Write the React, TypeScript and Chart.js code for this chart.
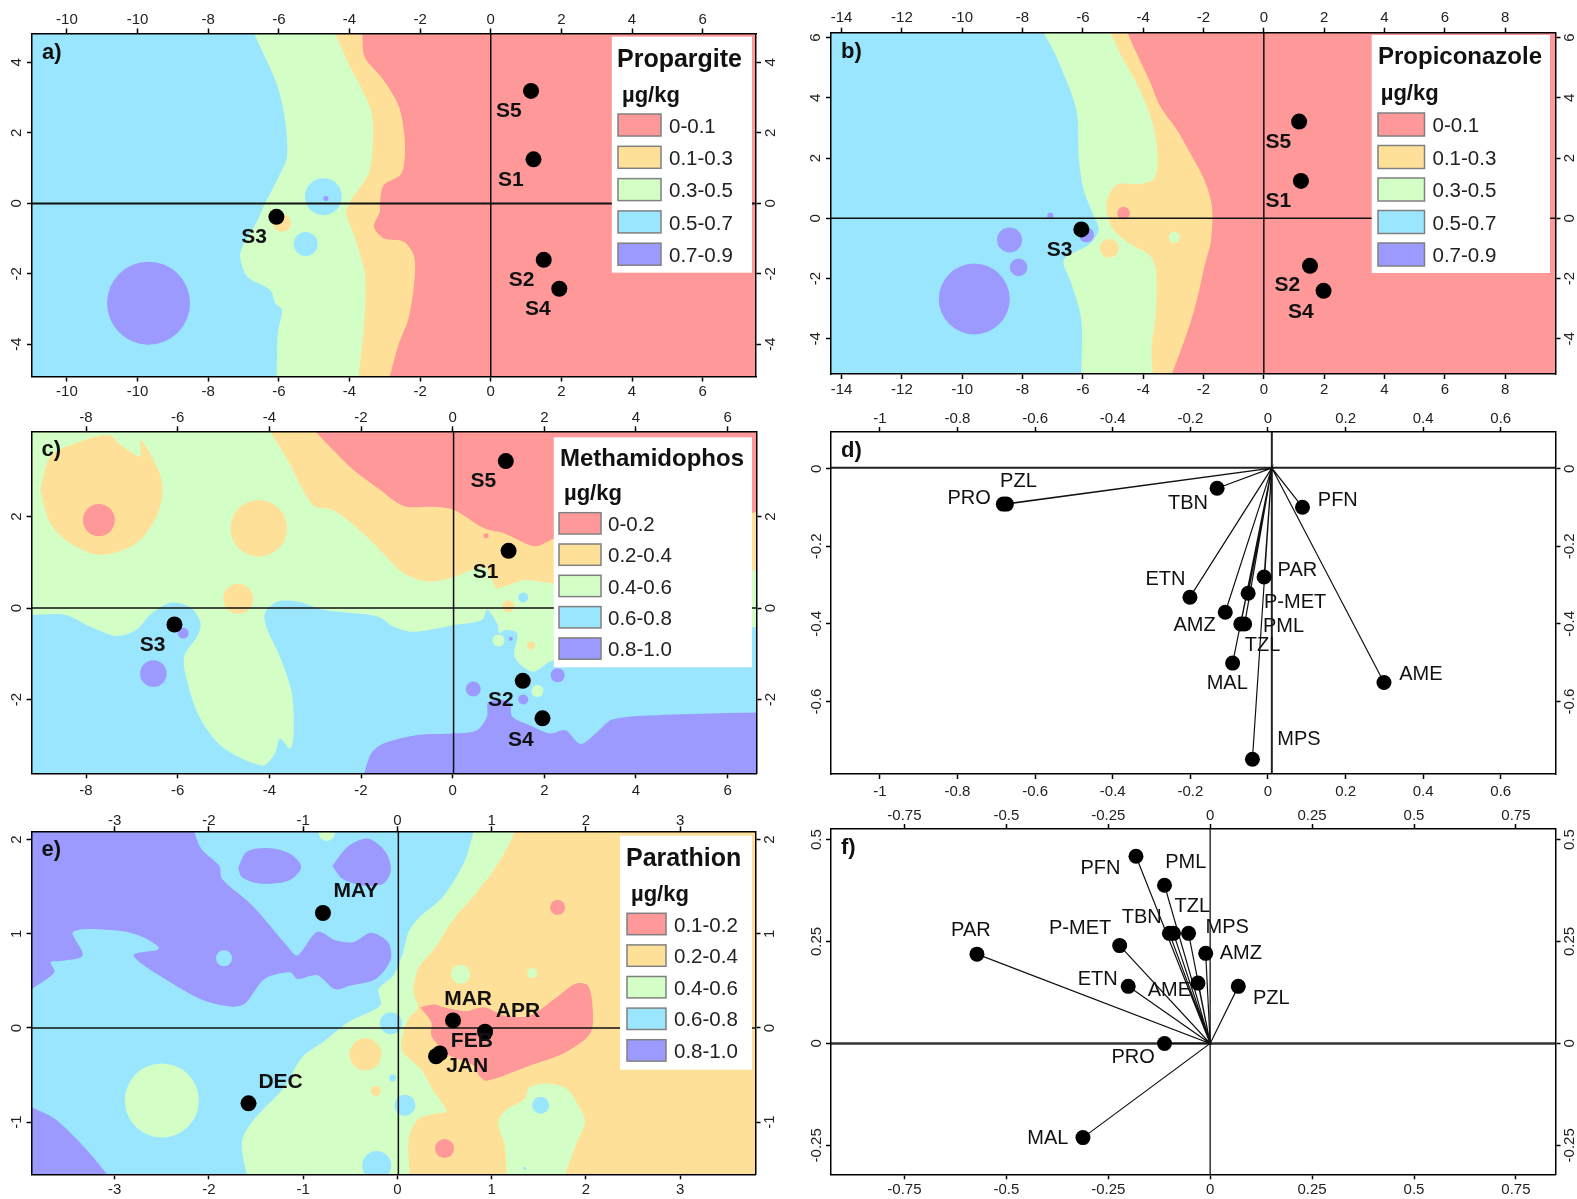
import React, { useEffect, useRef } from "react";
import { Chart, registerables } from "chart.js";

Chart.register(...registerables);

type P = [number, number];
const FONT = "'Liberation Sans', Arial, sans-serif";
const COLORS = ["#FF9898", "#FFE098", "#D3FFC6", "#9BE6FF", "#9C9AFF"];

// ---------- shared tick values and labels ----------
const xTicksA = [-12, -10, -8, -6, -4, -2, 0, 2, 4, 6];
const xLabelsA = ["-10", "-10", "-8", "-6", "-4", "-2", "0", "2", "4", "6"];
const yTicksA = [4, 2, 0, -2, -4];
const xTicksB = [-14, -12, -10, -8, -6, -4, -2, 0, 2, 4, 6, 8];
const yTicksB = [6, 4, 2, 0, -2, -4];
const xTicksC = [-8, -6, -4, -2, 0, 2, 4, 6];
const yTicksC = [2, 0, -2];
const xTicksD = [-1, -0.8, -0.6, -0.4, -0.2, 0, 0.2, 0.4, 0.6];
const yTicksD = [0, -0.2, -0.4, -0.6];
const xTicksE = [-3, -2, -1, 0, 1, 2, 3];
const yTicksE = [2, 1, 0, -1];
const xTicksF = [-0.75, -0.5, -0.25, 0, 0.25, 0.5, 0.75];
const yTicksF = [0.5, 0.25, 0, -0.25];

// ---------- panel a ----------
const siteNames = ["S1", "S2", "S3", "S4", "S5"];
const sitesA: P[] = [[1.21, 1.25], [1.5, -1.6], [-6.07, -0.38], [1.94, -2.42], [1.14, 3.19]];
const siteLabelsA: P[] = [[0.57, 0.66], [0.87, -2.19], [-6.7, -0.96], [1.33, -3.01], [0.51, 2.62]];
const baseA: P[] = [[-12.99, 4.82], [7.51, 4.82], [7.51, -4.91], [-12.99, -4.91]];
const yellowA: P[] = [[-3.64, 4.82], [-3.57, 4.15], [-3.03, 3.49], [-2.6, 2.74], [-2.43, 1.7], [-2.53, 0.85], [-3.03, 0.52], [-3.14, 0], [-3.14, -0.24], [-3.31, -0.66], [-3.03, -0.99], [-2.46, -1.09], [-2.17, -1.51], [-2.17, -2.27], [-2.34, -3.3], [-2.6, -3.97], [-2.86, -4.91], [-12.99, -4.91], [-12.99, 4.82]];
const greenA: P[] = [[-4.41, 4.82], [-4.03, 3.97], [-3.39, 2.64], [-3.34, 1.61], [-3.46, 0.85], [-3.96, 0.09], [-4.1, -0.28], [-3.89, -0.85], [-3.57, -1.98], [-3.57, -3.21], [-3.67, -4.25], [-3.74, -4.91], [-12.99, -4.91], [-12.99, 4.82]];
const blueA: P[] = [[-6.7, 4.82], [-6.31, 3.97], [-6.03, 3.3], [-5.81, 2.27], [-5.77, 1.32], [-5.96, 0.85], [-6.39, 0], [-6.6, -0.47], [-7.03, -1.23], [-7.1, -1.51], [-6.89, -2.08], [-6.24, -2.46], [-6.1, -2.83], [-5.91, -3.02], [-6.03, -3.68], [-6.06, -4.91], [-12.99, -4.91], [-12.99, 4.82]];
const blobsYellowA = [{ x: -5.91, y: -0.55, r: 9 }];
const blobsBlueA = [{ x: -4.74, y: 0.19, r: 18.5 }, { x: -5.24, y: -1.15, r: 12 }];
const blobsPurpleA = [{ x: -9.69, y: -2.83, r: 41.5 }, { x: -4.67, y: 0.14, r: 2.5 }];

// ---------- panel b ----------
const sitesB: P[] = [[1.23, 1.24], [1.53, -1.58], [-6.05, -0.37], [1.98, -2.41], [1.17, 3.21]];
const siteLabelsB: P[] = [[0.48, 0.55], [0.78, -2.23], [-6.77, -1.07], [1.23, -3.12], [0.48, 2.51]];
const baseB: P[] = [[-14.35, 6.16], [9.67, 6.16], [9.67, -5.17], [-14.35, -5.17]];
const yellowB: P[] = [[-4.52, 6.16], [-4.22, 5.48], [-3.8, 4.59], [-3.43, 3.71], [-2.88, 2.93], [-2.38, 2.05], [-1.97, 1.27], [-1.72, 0.39], [-1.75, -0.72], [-1.97, -1.6], [-2.22, -2.71], [-2.55, -3.82], [-3.05, -5.17], [-14.35, -5.17], [-14.35, 6.16]];
const greenB: P[] = [[-5.08, 6.16], [-4.72, 5.37], [-4.22, 4.48], [-3.72, 3.26], [-3.52, 2.05], [-3.63, 1.33], [-4.13, 1.13], [-4.88, 1.11], [-5.22, 0.5], [-5.05, -0.28], [-4.47, -0.83], [-3.8, -1.22], [-3.58, -1.71], [-3.58, -3.15], [-3.72, -4.26], [-3.68, -5.17], [-14.35, -5.17], [-14.35, 6.16]];
const blueB: P[] = [[-7.3, 6.16], [-6.88, 5.37], [-6.22, 3.6], [-6.13, 1.94], [-5.97, 0.94], [-5.63, 0.06], [-5.47, -0.39], [-5.8, -0.88], [-6.63, -1.38], [-6.38, -2.16], [-6.05, -3.37], [-6.05, -5.17], [-14.35, -5.17], [-14.35, 6.16]];
const blobsRedB = [{ x: -4.65, y: 0.17, r: 6.3 }];
const blobsYellowB = [{ x: -5.13, y: -1.0, r: 9.5 }];
const blobsGreenB = [{ x: -2.97, y: -0.63, r: 5.5 }];
const blobsPurpleB = [{ x: -9.6, y: -2.68, r: 35.5 }, { x: -8.43, y: -0.72, r: 12.5 }, { x: -8.13, y: -1.63, r: 8.8 }, { x: -7.08, y: 0.08, r: 3 }, { x: -5.88, y: -0.55, r: 7.5 }];

// ---------- panel c ----------
const sitesC: P[] = [[1.22, 1.25], [1.53, -1.59], [-6.07, -0.36], [1.96, -2.41], [1.16, 3.21]];
const siteLabelsC: P[] = [[0.72, 0.79], [1.05, -2.02], [-6.55, -0.82], [1.49, -2.88], [0.67, 2.76]];
const baseC: P[] = [[-9.19, 3.86], [6.63, 3.86], [6.63, -3.61], [-9.19, -3.61]];
const yellowC: P[] = [[-3.99, 3.86], [-3.6, 3.23], [-3.27, 2.58], [-3.0, 2.21], [-2.61, 2.14], [-1.95, 1.63], [-1.51, 1.19], [-1.07, 0.76], [-0.52, 0.58], [0.03, 0.68], [0.69, 0.9], [0.86, 0.61], [0.97, 0.43], [1.57, 0.61], [2.24, 0.54], [6.63, 0.83], [6.63, 3.86]];
const redC: P[] = [[-3, 3.86], [-2.61, 3.45], [-2.17, 3.02], [-1.62, 2.61], [-1.07, 2.23], [-0.41, 2.21], [0.03, 2.14], [0.69, 1.74], [1.13, 1.63], [1.8, 1.35], [2.24, 1.52], [3.34, 1.49], [6.63, 2.1], [6.63, 3.86]];
const blueC: P[] = [[-9.19, -0.15], [-8.45, -0.15], [-7.9, -0.41], [-7.35, -0.61], [-6.91, -0.48], [-6.57, -0.12], [-6.13, 0.12], [-5.69, -0.01], [-5.5, -0.34], [-5.58, -0.63], [-5.86, -1.06], [-5.8, -1.57], [-5.53, -2.37], [-5.03, -3.03], [-4.15, -3.44], [-3.88, -3.18], [-3.77, -2.85], [-3.55, -3.07], [-3.47, -2.74], [-3.51, -1.86], [-3.77, -1.06], [-4.04, -0.48], [-4.1, -0.12], [-3.82, 0.14], [-3.38, 0.14], [-2.83, -0.04], [-1.62, -0.19], [-1.29, -0.41], [-0.85, -0.52], [0.03, -0.37], [0.64, -0.26], [0.75, -0.04], [0.97, -0.34], [1.02, -0.55], [1.13, -0.48], [1.41, -0.55], [1.35, -1.06], [1.74, -1.39], [2.2, -1.14], [6.63, -0.41], [6.63, -3.61], [-9.19, -3.61]];
const purpleC: P[] = [[-1.93, -3.61], [-1.78, -3.18], [-1.51, -2.96], [-0.74, -2.77], [0.03, -2.74], [0.53, -2.67], [0.75, -2.37], [0.78, -2.05], [1.24, -2.05], [1.3, -2.37], [1.68, -2.56], [2.13, -2.74], [2.46, -2.67], [2.79, -2.97], [3.12, -2.74], [3.5, -2.43], [4.99, -2.32], [6.63, -2.28], [6.63, -3.61]];
const yellowBlotchC: P[] = [[-9.0, 2.58], [-8.78, 3.31], [-8.23, 3.6], [-7.51, 3.78], [-7.24, 3.56], [-6.82, 3.31], [-6.82, 3.67], [-6.52, 3.23], [-6.33, 2.65], [-6.46, 2.0], [-6.91, 1.41], [-7.68, 1.16], [-8.34, 1.41], [-8.78, 1.85]];
const blobsYellowC = [{ x: -4.23, y: 1.74, r: 28.3 }, { x: -4.68, y: 0.2, r: 15 }, { x: 1.21, y: 0.04, r: 6 }, { x: 1.71, y: -0.82, r: 4 }];
const blobsRedC = [{ x: -7.72, y: 1.92, r: 16 }, { x: 0.73, y: 1.58, r: 2.5 }];
const blobsGreenC = [{ x: 1.85, y: -1.81, r: 6 }, { x: 1.0, y: -0.71, r: 6 }];
const blobsBlueC = [{ x: 1.54, y: 0.23, r: 5 }];
const blobsPurpleC = [{ x: -5.88, y: -0.55, r: 5.5 }, { x: -6.53, y: -1.43, r: 13.3 }, { x: 0.45, y: -1.77, r: 7.5 }, { x: 1.54, y: -2.0, r: 5 }, { x: 2.29, y: -1.47, r: 7 }, { x: 1.27, y: -0.67, r: 2 }];

// ---------- panel d ----------
const speciesD = ["PRO", "PZL", "TBN", "PFN", "PAR", "P-MET", "ETN", "AMZ", "PML", "TZL", "MAL", "AME", "MPS"];
const vectorsD: P[] = [[-0.682, -0.091], [-0.674, -0.091], [-0.131, -0.05], [0.089, -0.099], [-0.01, -0.279], [-0.051, -0.321], [-0.201, -0.331], [-0.11, -0.37], [-0.06, -0.4], [-0.07, -0.4], [-0.091, -0.501], [0.299, -0.551], [-0.04, -0.749]];
const vectorLabelsD: P[] = [[-0.77, -0.076], [-0.643, -0.033], [-0.206, -0.09], [0.18, -0.082], [0.076, -0.261], [0.07, -0.345], [-0.264, -0.286], [-0.189, -0.405], [0.04, -0.407], [-0.014, -0.456], [-0.105, -0.553], [0.394, -0.531], [0.08, -0.699]];

// ---------- panel e ----------
const monthNames = ["MAY", "MAR", "APR", "FEB", "JAN", "DEC"];
const monthsE: P[] = [[-0.79, 1.22], [0.59, 0.08], [0.93, -0.04], [0.45, -0.27], [0.41, -0.3], [-1.58, -0.8]];
const monthLabelsE: P[] = [[-0.44, 1.45], [0.75, 0.3], [1.28, 0.18], [0.79, -0.14], [0.74, -0.41], [-1.24, -0.58]];
const baseE: P[] = [[-3.883, 2.087], [3.8, 2.087], [3.8, -1.553], [-3.883, -1.553]];
const greenE: P[] = [[1.25, 2.087], [1.08, 1.76], [0.81, 1.4], [0.6, 1.16], [0.39, 0.84], [0.22, 0.63], [0.17, 0.38], [0.22, 0.22], [0.12, 0.1], [0.04, -0.15], [0.06, -0.26], [0.25, -0.44], [0.39, -0.68], [0.52, -0.88], [0.39, -0.91], [0.22, -0.97], [0.12, -1.18], [0.13, -1.553], [-3.883, -1.553], [-3.883, 2.087]];
const blueE: P[] = [[0.81, 2.087], [0.71, 1.76], [0.49, 1.4], [0.22, 1.16], [0.12, 1.02], [0.06, 0.8], [-0.04, 0.56], [-0.2, 0.41], [-0.18, 0.24], [-0.52, 0.06], [-0.79, -0.15], [-1.01, -0.31], [-1.22, -0.65], [-1.52, -0.97], [-1.65, -1.21], [-1.6, -1.553], [-3.883, -1.553], [-3.883, 2.087]];
const purpleE: P[] = [[-2.16, 2.087], [-2.08, 1.9], [-1.89, 1.72], [-1.86, 1.58], [-1.54, 1.3], [-1.17, 0.87], [-1.06, 0.77], [-0.85, 1.02], [-0.66, 0.93], [-0.47, 0.91], [-0.28, 1.01], [-0.1, 0.91], [-0.07, 0.73], [-0.23, 0.52], [-0.5, 0.45], [-0.66, 0.41], [-0.85, 0.56], [-1.06, 0.52], [-1.14, 0.59], [-1.41, 0.52], [-1.65, 0.24], [-2.02, 0.28], [-2.4, 0.48], [-2.8, 0.77], [-2.53, 0.84], [-2.69, 0.96], [-2.94, 1.03], [-3.44, 1.02], [-3.34, 0.77], [-3.58, 0.71], [-3.68, 0.7], [-3.64, 0.59], [-3.883, 0.41], [-3.883, 2.087]];
const purpleCornerE: P[] = [[-3.883, -0.84], [-3.63, -0.97], [-3.31, -1.28], [-3.08, -1.553], [-3.883, -1.553]];
const purpleDomeLeftE: P[] = [[-1.69, 1.7], [-1.6, 1.87], [-1.38, 1.91], [-1.14, 1.85], [-1.02, 1.71], [-1.14, 1.57], [-1.44, 1.53], [-1.65, 1.6]];
const purpleDomeRightE: P[] = [[-0.69, 1.72], [-0.52, 1.93], [-0.31, 2.01], [-0.12, 1.86], [-0.07, 1.67], [-0.15, 1.53], [-0.36, 1.51], [-0.58, 1.58]];
const redE: P[] = [[0.24, 0.22], [0.39, 0.25], [0.49, 0.22], [0.73, 0.18], [0.92, 0.22], [1.14, 0.13], [1.4, 0.13], [1.67, 0.31], [1.89, 0.47], [2.02, 0.45], [2.07, 0.24], [2.05, -0.05], [1.78, -0.26], [1.4, -0.4], [0.95, -0.56], [0.87, -0.51], [0.81, -0.4], [0.55, -0.29], [0.44, -0.19], [0.36, -0.08], [0.36, 0.06]];
const greenIslandE: P[] = [[1.16, -1.553], [1.14, -1.25], [1.07, -1.0], [1.14, -0.88], [1.35, -0.75], [1.4, -0.63], [1.59, -0.59], [1.8, -0.65], [1.94, -0.86], [1.99, -1.0], [1.89, -1.25], [1.78, -1.553]];
const blobsGreenE = [{ x: -2.5, y: -0.77, r: 37 }, { x: 0.67, y: 0.57, r: 9.5 }, { x: 1.43, y: 0.58, r: 5 }, { x: -0.75, y: 2.07, r: 8 }];
const blobsYellowE = [{ x: -0.34, y: -0.28, r: 16 }, { x: -0.23, y: -0.67, r: 5 }];
const blobsBlueE = [{ x: -0.07, y: 0.05, r: 11 }, { x: -0.05, y: -0.53, r: 3.5 }, { x: 0.08, y: -0.82, r: 10.5 }, { x: -0.22, y: -1.46, r: 14.5 }, { x: -1.84, y: 0.74, r: 8 }, { x: 1.52, y: -0.82, r: 8.5 }, { x: 1.35, y: -1.49, r: 1.5 }];
const blobsRedE = [{ x: 0.5, y: -1.28, r: 9.5 }, { x: 1.7, y: 1.28, r: 7.5 }];

// ---------- panel f ----------
const speciesF = ["PFN", "PML", "TBN", "TZL", "MPS", "P-MET", "PAR", "AMZ", "ETN", "AME", "PZL", "PRO", "MAL"];
const vectorsF: P[] = [[-0.182, 0.459], [-0.112, 0.388], [-0.1, 0.27], [-0.09, 0.27], [-0.053, 0.27], [-0.222, 0.24], [-0.572, 0.219], [-0.011, 0.221], [-0.201, 0.14], [-0.03, 0.148], [0.069, 0.14], [-0.112, 0], [-0.312, -0.231]];
const vectorLabelsF: P[] = [[-0.269, 0.43], [-0.06, 0.444], [-0.168, 0.309], [-0.044, 0.336], [0.042, 0.285], [-0.319, 0.282], [-0.587, 0.278], [0.075, 0.221], [-0.276, 0.156], [-0.1, 0.129], [0.15, 0.11], [-0.189, -0.034], [-0.398, -0.232]];

// ---------- legends ----------
const rangesAB = ["0-0.1", "0.1-0.3", "0.3-0.5", "0.5-0.7", "0.7-0.9"];
const rangesC = ["0-0.2", "0.2-0.4", "0.4-0.6", "0.6-0.8", "0.8-1.0"];
const rangesE = ["0.1-0.2", "0.2-0.4", "0.4-0.6", "0.6-0.8", "0.8-1.0"];

// ---------- layout ----------
const panels: any[] = [
  {
    tag: "a)", cell: [0, 0, 790, 400], plot: [32, 33.5, 756, 376.5], xr: [-12.99, 7.51], yr: [-4.91, 4.82],
    xt: xTicksA, xl: xLabelsA, yt: yTicksA, ypad: 3, tpad: 0, bpad: 1,
    regions: [[0, baseA], [1, yellowA], [2, greenA], [3, blueA]],
    blobs: [[1, blobsYellowA], [3, blobsBlueA], [4, blobsPurpleA]],
    axes: { x0: 0, y0: 0, vw: 1.5, hw: 2, c: "#111" },
    pts: sitesA, r: 8, names: siteNames, lab: siteLabelsA, bold: true,
    legend: { title: "Propargite", tfs: 25, ranges: rangesAB, box: [611.8, 36.7, 752, 272.7], sx: 618, sw: 43, sy: 114, sh: 22, step: 32.3, tx: 669, ttx: 617, tty: 66.7, ux: 622, uy: 101.7 },
  },
  {
    tag: "b)", cell: [790, 0, 787, 400], plot: [41, 32.7, 765.5, 374], xr: [-14.35, 9.67], yr: [-5.17, 6.16],
    xt: xTicksB, yt: yTicksB, ypad: 3, tpad: 1, bpad: 2,
    regions: [[0, baseB], [1, yellowB], [2, greenB], [3, blueB]],
    blobs: [[0, blobsRedB], [1, blobsYellowB], [2, blobsGreenB], [4, blobsPurpleB]],
    axes: { x0: 0, y0: 0, vw: 1.5, hw: 1.5, c: "#111" },
    pts: sitesB, r: 8, names: siteNames, lab: siteLabelsB, bold: true,
    legend: { title: "Propiconazole", tfs: 24, ranges: rangesAB, box: [581.7, 35, 760, 273], sx: 588, sw: 46.5, sy: 113, sh: 23, step: 32.5, tx: 642.5, ttx: 588, tty: 64, ux: 590.7, uy: 100 },
  },
  {
    tag: "c)", cell: [0, 400, 790, 399], plot: [31.5, 31.3, 756.5, 373.3], xr: [-9.19, 6.63], yr: [-3.61, 3.86],
    xt: xTicksC, yt: yTicksC, ypad: 3, tpad: -1, bpad: 4,
    regions: [[2, baseC], [1, yellowC], [0, redC], [3, blueC], [4, purpleC], [1, yellowBlotchC]],
    blobs: [[1, blobsYellowC], [0, blobsRedC], [2, blobsGreenC], [3, blobsBlueC], [4, blobsPurpleC]],
    axes: { x0: 0.02, y0: 0, vw: 1.5, hw: 1.5, c: "#111" },
    pts: sitesC, r: 8, names: siteNames, lab: siteLabelsC, bold: true,
    legend: { title: "Methamidophos", tfs: 24, ranges: rangesC, box: [553.8, 37.3, 752, 267.3], sx: 559, sw: 42, sy: 112.7, sh: 21.3, step: 31.3, tx: 608, ttx: 560, tty: 65.7, ux: 564, uy: 100 },
  },
  {
    tag: "d)", cell: [790, 400, 787, 399], plot: [41, 32, 765.5, 374], xr: [-1.126, 0.741], yr: [-0.787, 0.095],
    xt: xTicksD, yt: yTicksD, ypad: -3.5, tpad: -1, bpad: 4,
    regions: [], blobs: [],
    axes: { x0: 0.01, y0: 0.003, vw: 2, hw: 2, c: "#222" },
    origin: [0.01, 0.002], pts: vectorsD, r: 7.5, names: speciesD, lab: vectorLabelsD, bold: false,
  },
  {
    tag: "e)", cell: [0, 799, 790, 400], plot: [31.5, 32.3, 755.5, 375.3], xr: [-3.883, 3.8], yr: [-1.553, 2.087],
    xt: xTicksE, yt: yTicksE, ypad: 3, tpad: -4, bpad: 2,
    regions: [[1, baseE], [2, greenE], [3, blueE], [4, purpleE], [4, purpleCornerE], [4, purpleDomeLeftE], [4, purpleDomeRightE], [0, redE], [2, greenIslandE]],
    blobs: [[2, blobsGreenE], [1, blobsYellowE], [3, blobsBlueE], [0, blobsRedE]],
    axes: { x0: 0.01, y0: 0, vw: 1.5, hw: 1.5, c: "#111" },
    pts: monthsE, r: 8, names: monthNames, lab: monthLabelsE, bold: true,
    legend: { title: "Parathion", tfs: 25, ranges: rangesE, box: [620, 36.7, 752, 270.7], sx: 627, sw: 39, sy: 114.3, sh: 21.4, step: 31.6, tx: 674, ttx: 626, tty: 66.7, ux: 631, uy: 101.7 },
  },
  {
    tag: "f)", cell: [790, 799, 787, 400], plot: [41, 30, 765.5, 375.3], xr: [-0.93, 0.847], yr: [-0.321, 0.526],
    xt: xTicksF, yt: yTicksF, ypad: -7.5, tpad: -1, bpad: 2,
    regions: [], blobs: [],
    axes: { x0: 0, y0: 0, vw: 1.5, hw: 2.5, c: "#333" },
    origin: [0, 0], pts: vectorsF, r: 7.5, names: speciesF, lab: vectorLabelsF, bold: false,
  },
];

function fixAxis(size: number) {
  return (s: any) => {
    if (s.isHorizontal()) s.height = size;
    else s.width = size;
    s.paddingLeft = s.paddingRight = s.paddingTop = s.paddingBottom = 0;
  };
}

function makeAxis(axis: "x" | "y", position: string, range: number[], ticks: number[], labels: string[] | undefined, size: number, pad: number) {
  return {
    type: "linear",
    axis,
    position,
    min: range[0],
    max: range[1],
    afterBuildTicks: (s: any) => {
      s.ticks = ticks.map((value) => ({ value }));
    },
    afterFit: fixAxis(size),
    ticks: {
      autoSkip: false,
      callback: (v: number, i: number) => (labels ? labels[i] : String(v)),
      font: { family: FONT, size: 15 },
      color: "#222",
      padding: pad,
      minRotation: axis === "y" ? 90 : 0,
      maxRotation: axis === "y" ? 90 : 0,
      crossAlign: axis === "y" ? "center" : "near",
      z: 1,
    },
    grid: { drawOnChartArea: false, drawTicks: true, tickLength: 5, tickColor: "#000", tickWidth: 1.5 },
    border: { display: true, color: "#000", width: 1.5, z: 1 },
  };
}

// doubling a point that lies on the plot edge keeps the frame corners sharp under curve smoothing
function shape(pts: P[], xr: number[], yr: number[]) {
  const onEdge = ([x, y]: P) => x === xr[0] || x === xr[1] || y === yr[0] || y === yr[1];
  const out: { x: number; y: number }[] = [];
  [...pts, pts[0]].forEach((p) => {
    out.push({ x: p[0], y: p[1] });
    if (onEdge(p)) out.push({ x: p[0], y: p[1] });
  });
  return out;
}

function buildDatasets(p: any) {
  const ds: any[] = [];
  p.regions.forEach(([lvl, pts]: [number, P[]]) => {
    ds.push({ type: "line", data: shape(pts, p.xr, p.yr), fill: "shape", backgroundColor: COLORS[lvl], borderWidth: 0, borderColor: "transparent", pointRadius: 0, tension: 0.3 });
  });
  p.blobs.forEach(([lvl, pts]: [number, any[]]) => {
    ds.push({ type: "bubble", data: pts, backgroundColor: COLORS[lvl], borderWidth: 0, hoverRadius: 0 });
  });
  const axisStyle = { type: "line", fill: false, borderColor: p.axes.c, pointRadius: 0, tension: 0 };
  ds.push({ ...axisStyle, borderWidth: p.axes.hw, data: [{ x: p.xr[0], y: p.axes.y0 }, { x: p.xr[1], y: p.axes.y0 }] });
  ds.push({ ...axisStyle, borderWidth: p.axes.vw, data: [{ x: p.axes.x0, y: p.yr[0] }, { x: p.axes.x0, y: p.yr[1] }] });
  if (p.origin) {
    const o = { x: p.origin[0], y: p.origin[1] };
    const zig: any[] = [];
    p.pts.forEach((q: P) => {
      zig.push(o, { x: q[0], y: q[1] });
    });
    ds.push({ type: "line", fill: false, borderColor: "#111", borderWidth: 1.2, pointRadius: 0, tension: 0, data: zig });
  }
  ds.push({ type: "scatter", data: p.pts.map((q: P) => ({ x: q[0], y: q[1] })), backgroundColor: "#000", borderWidth: 0, pointRadius: p.r, pointHoverRadius: p.r });
  const n = ds.length;
  ds.forEach((d, i) => {
    d.order = n - i;
  });
  return ds;
}

function annotations(p: any) {
  return {
    id: "annotations",
    afterDatasetsDraw(chart: any) {
      const { ctx, chartArea, scales } = chart;
      ctx.save();
      ctx.textBaseline = "middle";
      ctx.textAlign = "center";
      ctx.fillStyle = "#111";
      ctx.font = `${p.bold ? "bold 21px" : "20px"} ${FONT}`;
      p.names.forEach((name: string, i: number) => {
        ctx.fillText(name, scales.x.getPixelForValue(p.lab[i][0]), scales.y.getPixelForValue(p.lab[i][1]));
      });
      const lg = p.legend;
      if (lg) {
        ctx.fillStyle = "#fff";
        ctx.fillRect(lg.box[0], lg.box[1], lg.box[2] - lg.box[0], lg.box[3] - lg.box[1]);
        ctx.textAlign = "left";
        ctx.textBaseline = "alphabetic";
        ctx.fillStyle = "#111";
        ctx.font = `bold ${lg.tfs}px ${FONT}`;
        ctx.fillText(lg.title, lg.ttx, lg.tty);
        ctx.font = `bold 22px ${FONT}`;
        ctx.fillText("µg/kg", lg.ux, lg.uy);
        ctx.font = `20.5px ${FONT}`;
        lg.ranges.forEach((label: string, i: number) => {
          const y = lg.sy + i * lg.step;
          ctx.fillStyle = COLORS[i];
          ctx.fillRect(lg.sx, y, lg.sw, lg.sh);
          ctx.strokeStyle = "#808080";
          ctx.lineWidth = 1.5;
          ctx.strokeRect(lg.sx, y, lg.sw, lg.sh);
          ctx.fillStyle = "#222";
          ctx.textBaseline = "middle";
          ctx.fillText(label, lg.tx, y + lg.sh / 2 + 2);
        });
      }
      ctx.textAlign = "left";
      ctx.textBaseline = "alphabetic";
      ctx.fillStyle = "#111";
      ctx.font = `bold 22px ${FONT}`;
      ctx.fillText(p.tag, chartArea.left + 10, chartArea.top + 25);
      ctx.restore();
    },
  };
}

export default function App() {
  const refs = useRef<(HTMLCanvasElement | null)[]>([]);
  useEffect(() => {
    const charts = panels.map((p, i) => {
      const [, , w, h] = p.cell;
      const [l, t, r, b] = p.plot;
      return new Chart(refs.current[i] as HTMLCanvasElement, {
        type: "scatter",
        data: { datasets: buildDatasets(p) },
        options: {
          animation: false,
          responsive: false,
          devicePixelRatio: 1,
          events: [],
          layout: { padding: 0, autoPadding: false },
          plugins: { legend: { display: false }, tooltip: { enabled: false }, title: { display: false } },
          scales: {
            x: makeAxis("x", "bottom", p.xr, p.xt, p.xl, h - b, p.bpad),
            x2: makeAxis("x", "top", p.xr, p.xt, p.xl, t, p.tpad),
            y: makeAxis("y", "left", p.yr, p.yt, undefined, l, p.ypad),
            y2: makeAxis("y", "right", p.yr, p.yt, undefined, w - r, p.ypad),
          },
        } as any,
        plugins: [annotations(p)],
      } as any);
    });
    return () => charts.forEach((c) => c.destroy());
  }, []);
  return (
    <div style={{ position: "absolute", left: 0, top: 0, width: 1577, height: 1199, background: "#fff", overflow: "hidden" }}>
      {panels.map((p, i) => (
        <canvas
          key={p.tag}
          ref={(el) => {
            refs.current[i] = el;
          }}
          width={p.cell[2]}
          height={p.cell[3]}
          style={{ position: "absolute", left: p.cell[0], top: p.cell[1], width: p.cell[2], height: p.cell[3] }}
        />
      ))}
    </div>
  );
}
